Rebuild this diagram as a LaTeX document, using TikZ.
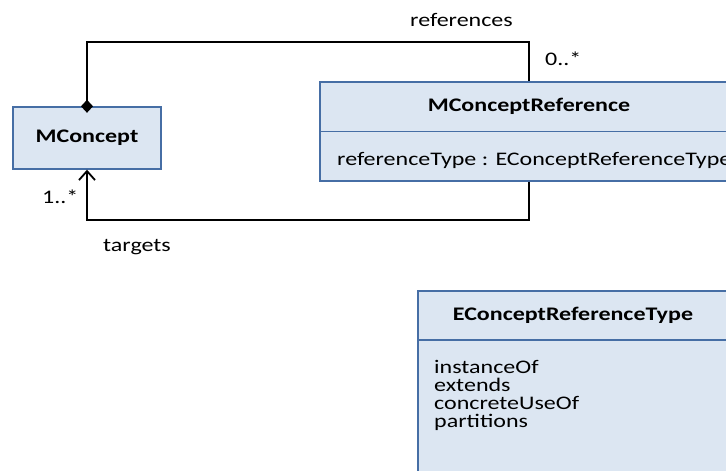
\documentclass[tikz,border=0pt]{standalone}
\usepackage{fontspec}
\setmainfont{Carlito}[FakeStretch=1.25]
\usetikzlibrary{arrows.meta}
\definecolor{boxfill}{RGB}{220,230,242}
\definecolor{boxline}{RGB}{70,110,165}
\tikzset{
  umlbox/.style={draw=boxline, fill=boxfill, line width=1.4pt, inner sep=0pt, minimum width=#1},
  conn/.style={draw=black, line width=1.8pt},
  lbl/.style={inner sep=0pt, anchor=base west}
}
\begin{document}
\begin{tikzpicture}[x=1pt,y=-1pt,font=\fontsize{19.2}{18.5}\selectfont]
\useasboundingbox (0,0) rectangle (726,471);
\clip (0,0) rectangle (726,471);
% MConcept
\node[umlbox=148, minimum height=62, font=\fontsize{19.2}{18.5}\selectfont\bfseries] (mc) at (87,138) {MConcept};
% MConceptReference
\node[umlbox=418, minimum height=49.5, font=\fontsize{19.2}{18.5}\selectfont\bfseries] (mcr) at (529,106.75) {MConceptReference};
\node[umlbox=418, minimum height=49.5] (mcra) at (529,156.25) {};
\node[lbl] (attr) at (337,165) {referenceType : EConceptReferenceType};
% EConceptReferenceType
\node[umlbox=310, minimum height=49, font=\fontsize{19.2}{18.5}\selectfont\bfseries] (ert) at (573,315.5) {EConceptReferenceType};
\node[umlbox=310, minimum height=145] (erb) at (573,412.5) {};
\node[lbl] (i1) at (434,373) {instanceOf};
\node[lbl] (i2) at (434,391.3) {extends};
\node[lbl] (i3) at (434,409.6) {concreteUseOf};
\node[lbl] (i4) at (434,427.9) {partitions};
% connectors
\draw[conn, {Diamond[length=13pt,width=12pt]}-, shorten <=-6.5pt] (mc.north) -- ++(0,-64) -| (mcr.north);
\draw[conn, -{Straight Barb[length=9pt,width=16pt,line width=1.8pt]}] (mcra.south) -- ++(0,38) -| (mc.south);
% labels
\node[lbl, anchor=base] (lref) at (461.5,26) {references};
\node[lbl] (m1) at (545,65) {0..*};
\node[lbl] (m2) at (42,203) {1..*};
\node[lbl] (ltg) at (103,251) {targets};
\end{tikzpicture}
\end{document}
